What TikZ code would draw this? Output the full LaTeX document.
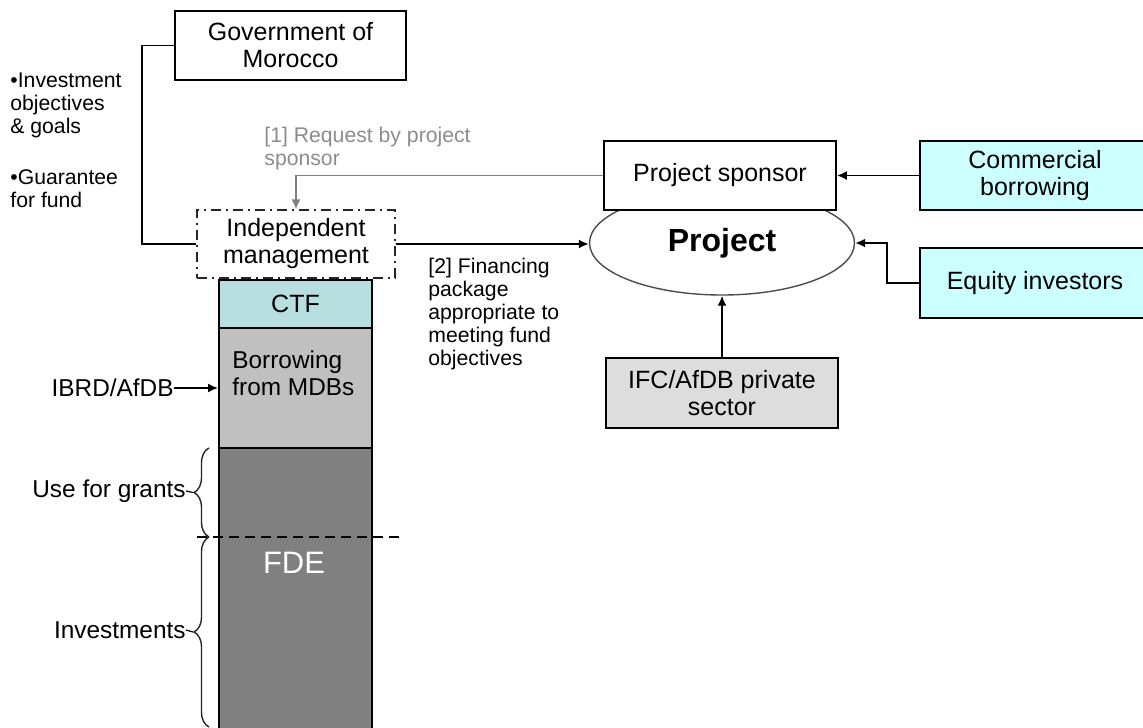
\documentclass[tikz,border=0pt]{standalone}
\usepackage{xcolor}
\usepackage{fontspec}
\setmainfont{Liberation Sans}
\usepackage{tikz}
\usetikzlibrary{calc}
\usetikzlibrary{arrows}
\usetikzlibrary{arrows.meta}
\usetikzlibrary{shapes}
\usetikzlibrary{shapes.geometric}
\usetikzlibrary{decorations.pathreplacing}
\tikzset{>=latex}
\definecolor{lightcyan}{HTML}{CCFFFF}
\definecolor{ctfblue}{HTML}{B7DFE0}
\definecolor{mdbgray}{HTML}{C0C0C0}
\definecolor{fdegray}{HTML}{808080}
\definecolor{ifcgray}{HTML}{DDDDDD}
\tikzstyle{box} = [rectangle, draw=black, line width=0.9pt, fill=white, inner sep=1pt, align=center, font=\fontsize{12.5}{13.5}\selectfont]
\tikzstyle{note} = [align=left, inner sep=0pt, font=\fontsize{10.6}{11.5}\selectfont]
\tikzstyle{side} = [inner sep=0pt, font=\fontsize{12.2}{13.5}\selectfont]
\tikzstyle{curly} = [decorate, decoration={brace, amplitude=7.5pt}, line width=0.7pt, draw=black!85]
\tikzstyle{tip} = [-{Latex[length=5pt, width=4.5pt]}, line width=0.9pt]

\begin{document}
\begin{tikzpicture}[x=0.5pt, y=-0.5pt]
\useasboundingbox (0, 0) rectangle (1143, 727);
\clip (0, 0) rectangle (1143, 727);
% fund column
\node [box, fill=ctfblue, minimum width=76.5pt, minimum height=24pt] (ctf) at (295.5, 304) {CTF};
\node [box, fill=mdbgray, minimum width=76.5pt, minimum height=60pt] (mdb) at (295.5, 388) {};
\node [box, fill=fdegray, minimum width=76.5pt, minimum height=143.5pt] (fde) at (295.5, 591.5) {};
\node [side, anchor=west, align=left] (mdbtext) at (232, 373) {Borrowing\\from MDBs};
\node [side, text=white, font=\fontsize{15.5}{17}\selectfont] (fdetext) at (294, 563) {FDE};
% top boxes
\node [box, minimum width=115.5pt, minimum height=34.5pt] (gov) at (290.5, 45.5) {Government of\\Morocco};
\node [box, draw=black!85, line width=0.7pt, dash pattern=on 5pt off 2.5pt on 1pt off 2.5pt, minimum width=99pt, minimum height=34pt] (indep) at (296, 244) {Independent\\management};
\node [ellipse, draw=black!70, line width=0.7pt, minimum width=132.5pt, minimum height=52pt, inner sep=0pt, font=\fontsize{16}{17}\selectfont\bfseries] (project) at (722, 243) {Project};
\node [box, minimum width=116pt, minimum height=34.5pt] (sponsor) at (720, 175.5) {Project sponsor};
\node [box, fill=lightcyan, minimum width=115pt, minimum height=34.5pt] (comm) at (1035, 175.5) {Commercial\\borrowing};
\node [box, fill=lightcyan, minimum width=115pt, minimum height=35pt] (equity) at (1035, 283) {Equity investors};
\node [box, fill=ifcgray, minimum width=116pt, minimum height=35pt] (ifc) at (722, 393) {IFC/AfDB private\\sector};
% notes
\node [note, anchor=west] (goals) at (10, 105) {\textbullet Investment\\objectives\\\& goals};
\node [note, anchor=west] (guarantee) at (10, 188.5) {\textbullet Guarantee\\for fund};
\node [note, anchor=west, text=black!45] (request) at (264, 148.5) {[1] Request by project\\sponsor};
\node [note, anchor=west] (financing) at (428, 314) {[2] Financing\\package\\appropriate to\\meeting fund\\objectives};
% left labels
\node [side, anchor=east] (ibrd) at (174, 388) {IBRD/AfDB};
\node [side, anchor=east] (grants) at (186, 491) {Use for grants};
\node [side, anchor=east] (invest) at (186, 630) {Investments};
\coordinate (grantstip) at (193, 492.5);
\coordinate (investtip) at (193, 632);
\coordinate (dashL) at (197, 537);
\coordinate (dashR) at (402, 537);
% connectors
\draw [line width=0.9pt] (gov.west) -- ++(-32, 0) |- (indep.west);
\draw [tip, draw = black!50, line width=0.7pt] (sponsor.west) -| (indep.north);
\draw [tip] (indep.east) -- (indep.east -| project.west);
\draw [tip] (comm.west) -- (sponsor.east);
\draw [tip] (equity.west) -- ++(-32, 0) |- (project.east);
\draw [tip] (ifc.north) -- (project.south);
\draw [tip] (ibrd.east) -- (ibrd.east -| mdb.west);
% braces and split
\draw [curly] (209, 537) -- (209, 448);
\draw [curly] (209, 727) -- (209, 537);
\draw [line width=0.6pt] (grants.east) -- (grantstip);
\draw [line width=0.6pt] (invest.east) -- (investtip);
\draw [dashed, line width=0.8pt, dash pattern=on 5pt off 3pt] (dashL) -- (dashR);
\end{tikzpicture}
\end{document}
